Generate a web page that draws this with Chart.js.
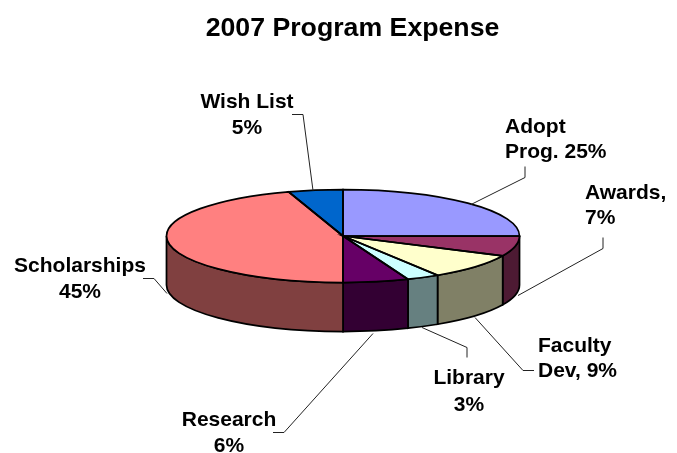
<!DOCTYPE html>
<html>
<head>
<meta charset="utf-8">
<title>2007 Program Expense</title>
<script src="https://cdn.jsdelivr.net/npm/chart.js@4"></script>
<style>
    html, body { margin: 0; padding: 0; background: #fff; }
    canvas { display: block; }
</style>
</head>
<body>
<canvas id="ExpenseChart" width="677" height="453"></canvas>
<script>
const categories = ['Adopt Prog.', 'Awards', 'Faculty Dev', 'Library', 'Research', 'Scholarships', 'Wish List'];
const expensePercent = [25, 7, 9, 3, 6, 45, 5];
const topColors = ['#9999ff', '#993366', '#ffffcc', '#ccffff', '#660066', '#ff8080', '#0066cc'];
const sideColors = ['#4d4d80', '#4d1a33', '#808066', '#668080', '#330033', '#804040', '#003366'];

// the label text, one entry per line
const labelLines = [
    ['Adopt', 'Prog. 25%'],
    ['Awards,', '7%'],
    ['Faculty', 'Dev, 9%'],
    ['Library', '3%'],
    ['Research', '6%'],
    ['Scholarships', '45%'],
    ['Wish List', '5%']
];
const labelSpots = [
    { x: 505, y: 133, lineGap: 25, align: 'left' },
    { x: 585, y: 199, lineGap: 25, align: 'left' },
    { x: 538, y: 352, lineGap: 25, align: 'left' },
    { x: 469, y: 384, lineGap: 27, align: 'center' },
    { x: 229, y: 426, lineGap: 26, align: 'center' },
    { x: 80, y: 272, lineGap: 26, align: 'center' },
    { x: 247, y: 108, lineGap: 26, align: 'center' }
];
const leaders = [
    [[525, 166], [525, 177], [471, 204]],
    [[603, 237], [603, 248], [518, 295]],
    [[534, 370], [523, 370], [475, 317]],
    [[467, 357], [467, 347], [422, 327]],
    [[273, 432], [284, 432], [373, 333]],
    [[143, 278], [154, 278], [167, 293]],
    [[292, 114], [303, 114], [313, 190]]
];

const centerX = 343;
const centerY = 236;
const tilt = 46.5 / 176.5;
const wallDepth = 49;

function arcsOf(chart) {
    return chart.getDatasetMeta(0).data;
}

const tiltedPie = {
    id: 'tiltedPie',
    beforeDatasetsDraw(chart) {
        const ctx = chart.ctx;
        const first = arcsOf(chart)[0];
        const r = first.outerRadius;

        // side walls, only the front half of the pie shows
        arcsOf(chart).forEach((arc, i) => {
            const from = Math.max(arc.startAngle, 0);
            const to = Math.min(arc.endAngle, Math.PI);
            if (to <= from) return;
            ctx.beginPath();
            ctx.ellipse(centerX, centerY, r, r * tilt, 0, from, to);
            ctx.lineTo(centerX + r * Math.cos(to), centerY + r * tilt * Math.sin(to) + wallDepth);
            ctx.ellipse(centerX, centerY + wallDepth, r, r * tilt, 0, to, from, true);
            ctx.closePath();
            ctx.fillStyle = sideColors[i];
            ctx.fill();
            ctx.strokeStyle = '#000';
            ctx.lineWidth = 1.75;
            ctx.stroke();
        });

        // squash the library's round pie into the tilted ellipse
        ctx.save();
        ctx.translate(centerX, centerY);
        ctx.scale(1, tilt);
        ctx.translate(-first.x, -first.y);
    },
    afterDatasetsDraw(chart) {
        const ctx = chart.ctx;
        ctx.restore();

        arcsOf(chart).forEach((arc) => {
            const r = arc.outerRadius;
            ctx.beginPath();
            ctx.moveTo(centerX, centerY);
            ctx.ellipse(centerX, centerY, r, r * tilt, 0, arc.startAngle, arc.endAngle);
            ctx.closePath();
            ctx.strokeStyle = '#000';
            ctx.lineWidth = 1.75;
            ctx.stroke();
        });
    },
    afterDraw(chart) {
        const ctx = chart.ctx;
        ctx.save();
        ctx.strokeStyle = '#222';
        ctx.lineWidth = 1;
        leaders.forEach((pts) => {
            ctx.beginPath();
            pts.forEach((p, i) => {
                if (i === 0) ctx.moveTo(p[0], p[1] + 0.5);
                else ctx.lineTo(p[0], p[1] + 0.5);
            });
            ctx.stroke();
        });

        ctx.fillStyle = '#000';
        ctx.font = 'bold 21px "Liberation Sans", Arial, sans-serif';
        ctx.textBaseline = 'alphabetic';
        labelLines.forEach((lines, i) => {
            const spot = labelSpots[i];
            ctx.textAlign = spot.align;
            lines.forEach((line, n) => {
                ctx.fillText(line, spot.x, spot.y + n * spot.lineGap);
            });
        });
        ctx.restore();
    }
};

new Chart(document.getElementById('ExpenseChart'), {
    type: 'pie',
    data: {
        labels: categories,
        datasets: [{
            label: 'Program Expense',
            data: expensePercent,
            backgroundColor: topColors,
            borderWidth: 0,
            clip: false
        }]
    },
    options: {
        responsive: false,
        animation: false,
        layout: {
            padding: { left: 176, right: 148, top: 0, bottom: 0 }
        },
        plugins: {
            legend: { display: false },
            tooltip: { enabled: false },
            title: {
                display: true,
                text: '2007 Program Expense',
                color: '#000',
                font: { family: '"Liberation Sans", Arial, sans-serif', size: 26.7, weight: 'bold' },
                padding: { top: 13, bottom: 10 }
            }
        }
    },
    plugins: [tiltedPie]
});
</script>
</body>
</html>
